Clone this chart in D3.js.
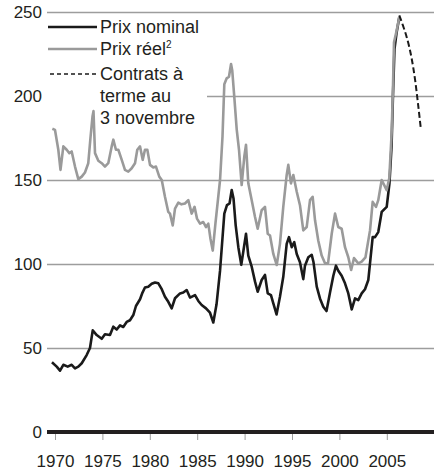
<!DOCTYPE html>
<html><head><meta charset="utf-8">
<script src="https://cdn.jsdelivr.net/npm/d3@7"></script>
<style>
html,body{margin:0;padding:0;background:#fff;}
svg{display:block;font-family:"Liberation Sans",Arial,Helvetica,sans-serif;}
</style></head>
<body><svg id="c" width="434" height="474"></svg>
<script>
// Data (year, value)
const nominalYears = [1969.68,1970.18,1970.53,1970.88,1971.34,1971.76,1972.11,1972.46,1972.82,1973.34,1973.69,1973.98,1974.40,1974.93,1975.27,1975.80,1976.15,1976.51,1976.86,1977.20,1977.56,1977.91,1978.26,1978.54,1978.97,1979.23,1979.49,1979.84,1980.20,1980.55,1980.90,1981.26,1981.60,1981.95,1982.31,1982.66,1983.19,1983.53,1983.89,1984.24,1984.77,1985.12,1985.47,1985.93,1986.35,1986.70,1987.04,1987.41,1987.86,1988.14,1988.41,1988.64,1988.83,1989.06,1989.34,1989.65,1989.88,1990.15,1990.39,1990.75,1991.10,1991.38,1991.80,1992.15,1992.44,1992.78,1993.03,1993.37,1993.73,1994.08,1994.44,1994.68,1994.97,1995.24,1995.50,1995.84,1996.19,1996.37,1996.72,1997.08,1997.27,1997.61,1997.95,1998.30,1998.64,1999.01,1999.36,1999.64,1999.88,2000.24,2000.59,2000.94,2001.30,2001.65,2001.99,2002.35,2002.70,2003.05,2003.51,2003.76,2004.10,2004.46,2004.99,2005.28,2005.50,2005.65,2005.81,2006.04,2006.32];
const nominalValues = [41.5,38.9,36.5,40,38.9,40,37.9,38.9,40.9,45.8,50,60.5,57.7,55.5,58.2,57.7,62.7,61,63.5,62.5,65.5,66.5,69.6,75,79,83,86,86.5,88.2,89,88.5,85,80.5,77.5,73.6,79.6,82.5,83,84.5,80,81.5,78,75.6,73.6,71,65.2,76,96,130,135,136,144,139,123,110,99.5,108,118,105,98.4,89.5,83.5,90.5,93.5,82.5,81.5,76.6,70,80.5,92.4,112,116,110,113,106,101,91,99,104,105.5,101,86.5,79.5,74.6,72,83,93,99,96,93,88.5,82.5,73,79.5,78.5,82.5,85,90.5,116,116,119,131,134,148,170,200,228,238,247];

const realYears = [1969.72,1970.0,1970.35,1970.58,1970.88,1971.23,1971.51,1971.76,1972.11,1972.46,1972.82,1973.16,1973.51,1973.74,1973.96,1974.06,1974.22,1974.57,1974.93,1975.27,1975.62,1975.98,1976.15,1976.43,1976.68,1977.04,1977.38,1977.73,1978.09,1978.44,1978.68,1978.97,1979.25,1979.49,1979.74,1980.02,1980.37,1980.65,1981.00,1981.26,1981.60,1981.95,1982.13,1982.42,1982.66,1983.01,1983.34,1983.71,1984.06,1984.42,1984.72,1984.98,1985.30,1985.64,1985.93,1986.17,1986.40,1986.64,1986.93,1987.41,1987.67,1987.86,1988.11,1988.35,1988.57,1988.70,1988.91,1989.17,1989.41,1989.69,1989.97,1990.15,1990.39,1990.75,1991.10,1991.38,1991.80,1992.15,1992.44,1992.68,1993.03,1993.39,1993.73,1994.08,1994.44,1994.61,1994.89,1995.14,1995.50,1995.84,1996.19,1996.55,1996.90,1997.18,1997.43,1997.77,1998.13,1998.48,1998.80,1999.19,1999.54,1999.88,2000.24,2000.59,2000.94,2001.24,2001.54,2001.99,2002.35,2002.75,2003.23,2003.51,2003.86,2004.10,2004.46,2004.99,2005.26,2005.51,2005.65,2005.76,2006.04,2006.32];
const realValues = [180.5,179.8,168,156,170,168,166,167,158,150.5,152,154.5,160,175,188,191,166,161.5,160,158,160,170,174,168,168,162,156,155,157,160,168,170,162,168,168,159,157.5,158,152,150,140,131,130,123,133,136.5,135.5,136,138,130,134,127,124,125,122,124,115,108,124.5,150,176,207,210.5,211.5,219,215,199.6,180,168,147,164,171,148,138,128,121,132,134,118,117,106,99.4,112,134,153,159,148,153,143,135,120,122,138,140,126,114,105,100.4,100.4,118,130,122,121,110,104,96.4,103.5,100.4,101.4,104,120,137,134,138,150,144,151,178,205,232,239,247];

const futuresYears = [2006.32,2006.7,2007.1,2007.6,2008.0,2008.3,2008.6];
const futuresValues = [248,242,235,223,209,195,180];

const yTicks = [0,50,100,150,200,250];
const xTicks = [1970,1975,1980,1985,1990,1995,2000,2005];

const svg = d3.select("#c");
const x = d3.scaleLinear().domain([1970, 2005]).range([55, 386.8]);
const y = d3.scaleLinear().domain([0, 250]).range([432, 12]);
const gridGray = "#9d9d9d";
const fs = 17;
const lfs = 18;

// gridlines (y axis)
const yAxis = d3.axisLeft(y).tickValues(yTicks.filter(d=>d>0)).tickSize(-387).tickPadding(5).tickFormat(d3.format("d"));
const gy = svg.append("g").attr("transform","translate(47,0)").call(yAxis);
gy.select(".domain").remove();
gy.selectAll(".tick line").attr("stroke",gridGray).attr("stroke-width",1.5);
gy.selectAll(".tick text").attr("font-size",fs).attr("fill","#231f20").attr("font-family","Liberation Sans, Arial, sans-serif").attr("x",-5);
// zero label
svg.append("text").attr("x",42).attr("y",y(0)).attr("dy","0.34em").attr("text-anchor","end")
  .attr("font-size",fs).attr("fill","#231f20").text("0");

// x axis ticks
const xAxis = d3.axisBottom(x).tickValues(xTicks).tickSize(8).tickPadding(15).tickFormat(d3.format("d"));
const gx = svg.append("g").attr("transform",`translate(0,${y(0)})`).call(xAxis);
gx.select(".domain").remove();
gx.selectAll(".tick line").attr("stroke",gridGray).attr("stroke-width",1);
gx.selectAll(".tick text").attr("font-size",fs).attr("fill","#231f20").attr("font-family","Liberation Sans, Arial, sans-serif");

// zero baseline
svg.append("line").attr("x1",47).attr("x2",434).attr("y1",y(0)).attr("y2",y(0))
  .attr("stroke","#231f20").attr("stroke-width",4);

// legend background (covers gridlines)
svg.append("rect").attr("x",47).attr("y",17).attr("width",160).attr("height",110).attr("fill","#fff");

const line = d3.line().x(d=>x(d[0])).y(d=>y(d[1])).curve(d3.curveLinear);
const nominal = nominalYears.map((t,i)=>[t,nominalValues[i]]);
const real = realYears.map((t,i)=>[t,realValues[i]]);
const fut = futuresYears.map((t,i)=>[t,futuresValues[i]]);

svg.append("path").datum(nominal).attr("d",line).attr("fill","none").attr("stroke","#1a1a1a").attr("stroke-width",2.6).attr("stroke-linejoin","round");
svg.append("path").datum(real).attr("d",line).attr("fill","none").attr("stroke","#9a9a9a").attr("stroke-width",2.6).attr("stroke-linejoin","round");
svg.append("path").datum(fut).attr("d",d3.line().x(d=>x(d[0])).y(d=>y(d[1])).curve(d3.curveMonotoneX))
  .attr("fill","none").attr("stroke","#1a1a1a").attr("stroke-width",2).attr("stroke-dasharray","6,3");

// legend
const lg = svg.append("g");
lg.append("line").attr("x1",48).attr("x2",97).attr("y1",27).attr("y2",27).attr("stroke","#1a1a1a").attr("stroke-width",2.6);
lg.append("line").attr("x1",48).attr("x2",97).attr("y1",49).attr("y2",49).attr("stroke","#9a9a9a").attr("stroke-width",2.6);
lg.append("line").attr("x1",50).attr("x2",98).attr("y1",74).attr("y2",74).attr("stroke","#1a1a1a").attr("stroke-width",1.5).attr("stroke-dasharray","4,3");
const tx = 100;
lg.append("text").attr("x",tx).attr("y",33).attr("font-size",lfs).attr("fill","#231f20").text("Prix nominal");
const t2 = lg.append("text").attr("x",tx).attr("y",55).attr("font-size",lfs).attr("fill","#231f20").text("Prix réel");
t2.append("tspan").attr("font-size",10).attr("dy",-7).text("2");
lg.append("text").attr("x",tx).attr("y",80).attr("font-size",lfs).attr("fill","#231f20").text("Contrats à");
lg.append("text").attr("x",tx).attr("y",102).attr("font-size",lfs).attr("fill","#231f20").text("terme au");
lg.append("text").attr("x",tx).attr("y",124).attr("font-size",lfs).attr("fill","#231f20").text("3 novembre");
</script></body></html>
